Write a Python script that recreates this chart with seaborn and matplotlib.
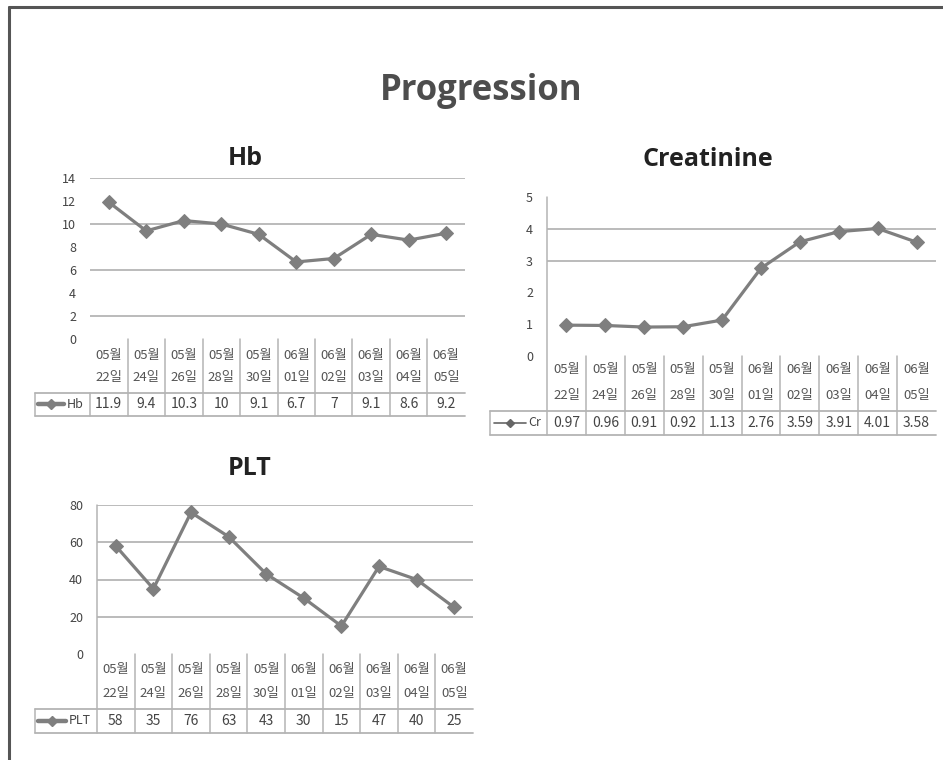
import numpy as np
import pandas as pd
import seaborn as sns
import matplotlib.pyplot as plt
from matplotlib.lines import Line2D

# Sampling dates (two-line labels: month / day)
months = ["05월", "05월", "05월", "05월", "05월", "06월", "06월", "06월", "06월", "06월"]
days = ["22일", "24일", "26일", "28일", "30일", "01일", "02일", "03일", "04일", "05일"]

# Lab values
hb = [11.9, 9.4, 10.3, 10, 9.1, 6.7, 7, 9.1, 8.6, 9.2]
cr = [0.97, 0.96, 0.91, 0.92, 1.13, 2.76, 3.59, 3.91, 4.01, 3.58]
plt_count = [58, 35, 76, 63, 43, 30, 15, 47, 40, 25]

sns.set_theme(style="white")
plt.rcParams["font.family"] = ["Noto Sans CJK KR", "DejaVu Sans"]

W, H = 943, 760
fig = plt.figure(figsize=(W / 100, H / 100), dpi=100)
fig.patch.set_facecolor("white")


def fx(px):
    return px / W


def fy(py):
    return 1 - py / H


LINE = "#7f7f7f"
TABLE = "#b4b4b4"
GRID = "#a8a8a8"
TEXT = "#444444"

# outer frame (top and left edges)
fig.add_artist(Line2D([fx(9), fx(9)], [fy(7), 0], color="#555555", lw=2.2))
fig.add_artist(Line2D([fx(9), 1], [fy(7), fy(7)], color="#555555", lw=2.2))

fig.text(fx(481), fy(100), "Progression", ha="center", va="baseline",
         fontsize=25, fontweight="bold", family="Open Sans", color="#4d4d4d")


def panel(box, title, title_xy, name, values, ylim, ystep, grid_levels,
          axis_line, date_y, row, cell_left, key, key_style):
    left, top, right, bottom = box
    ax = fig.add_axes([fx(left), fy(bottom), fx(right) - fx(left), (bottom - top) / H])
    n = len(values)
    df = pd.DataFrame({"pos": np.arange(n), name: values})
    sns.lineplot(data=df, x="pos", y=name, ax=ax, color=LINE, lw=2.3,
                 marker="D", markersize=7, markeredgecolor=LINE,
                 markerfacecolor=LINE, zorder=3)
    ax.set_xlim(-0.5, n - 0.5)
    ax.set_ylim(*ylim)
    ax.set_yticks(np.arange(ylim[0], ylim[1] + ystep / 2, ystep))
    ax.set_yticklabels([f"{v:g}" for v in ax.get_yticks()])
    ax.tick_params(axis="y", length=0, pad=10, labelsize=9, labelcolor=TEXT)
    ax.set_xticks([])
    ax.set_xlabel("")
    ax.set_ylabel("")
    for s in ax.spines.values():
        s.set_visible(False)
    for g in grid_levels:
        ax.axhline(g, color=GRID, lw=1.1, zorder=1)

    h = bottom - top

    def ay(py):
        return (bottom - py) / h

    tr = ax.get_xaxis_transform()
    # left axis line running down through the table
    if axis_line:
        ax.plot([-0.5, -0.5], [1, ay(row[1])], transform=tr, color=TABLE,
                lw=1.1, clip_on=False)
    else:
        ax.plot([-0.5, -0.5], [ay(row[0]), ay(row[1])], transform=tr,
                color=TABLE, lw=1.1, clip_on=False)
    # column separators
    for i in range(n - 1):
        ax.plot([i + 0.5, i + 0.5], [0, ay(row[1])], transform=tr,
                color=TABLE, lw=1.1, clip_on=False)
    # table row borders
    for yy in row:
        fig.add_artist(Line2D([fx(cell_left), fx(right)], [fy(yy), fy(yy)],
                              color=TABLE, lw=1.3))
    fig.add_artist(Line2D([fx(cell_left), fx(cell_left)], [fy(row[0]), fy(row[1])],
                          color=TABLE, lw=1.1))

    # date labels
    for i in range(n):
        ax.text(i, ay(date_y[0]), months[i], transform=tr, ha="center",
                va="center", fontsize=9.5, color="#555555")
        ax.text(i, ay(date_y[1]), days[i], transform=tr, ha="center",
                va="center", fontsize=9.5, color="#555555")
    # values row
    ymid = (row[0] + row[1]) / 2
    for i, v in enumerate(values):
        ax.text(i, ay(ymid), f"{v:g}", transform=tr, ha="center",
                va="center", fontsize=10, color=TEXT)
    # legend key inside the table
    kx0, kx1, tx = key
    if key_style == "thick":
        fig.add_artist(Line2D([fx(kx0), fx(kx1)], [fy(ymid), fy(ymid)],
                              color=LINE, lw=3.2))
        fig.add_artist(Line2D([fx((kx0 + kx1) / 2)], [fy(ymid)], color=LINE,
                              marker="D", markersize=5, lw=0))
    else:
        fig.add_artist(Line2D([fx(kx0), fx(kx1)], [fy(ymid), fy(ymid)],
                              color="#666666", lw=1.2))
        fig.add_artist(Line2D([fx((kx0 + kx1) / 2)], [fy(ymid)], color="#666666",
                              marker="D", markersize=4, lw=0))
    fig.text(fx(tx), fy(ymid), name, ha="left", va="center", fontsize=9,
             color=TEXT)

    fig.text(fx(title_xy[0]), fy(title_xy[1]), title, ha="center",
             va="baseline", fontsize=18, fontweight="bold", family="Open Sans",
             color="#222222")
    return ax


panel((90, 178, 465, 339), "Hb", (245, 165), "Hb", hb, (0, 14), 2,
      [2, 6, 10, 14], False, (355, 378), (393, 416), 35, (38, 64, 67), "thick")
panel((547, 197, 936, 356), "Creatinine", (708, 166), "Cr", cr, (0, 5), 1,
      [3, 4], True, (370, 395), (411, 435), 490, (494, 526, 528), "thin")
panel((97, 505, 473, 654), "PLT", (250, 475), "PLT", plt_count, (0, 80), 20,
      [20, 40, 60, 80], True, (670, 694), (709, 733), 35, (38, 66, 69), "thick")

fig.savefig("out.png", dpi=100, facecolor="white")
